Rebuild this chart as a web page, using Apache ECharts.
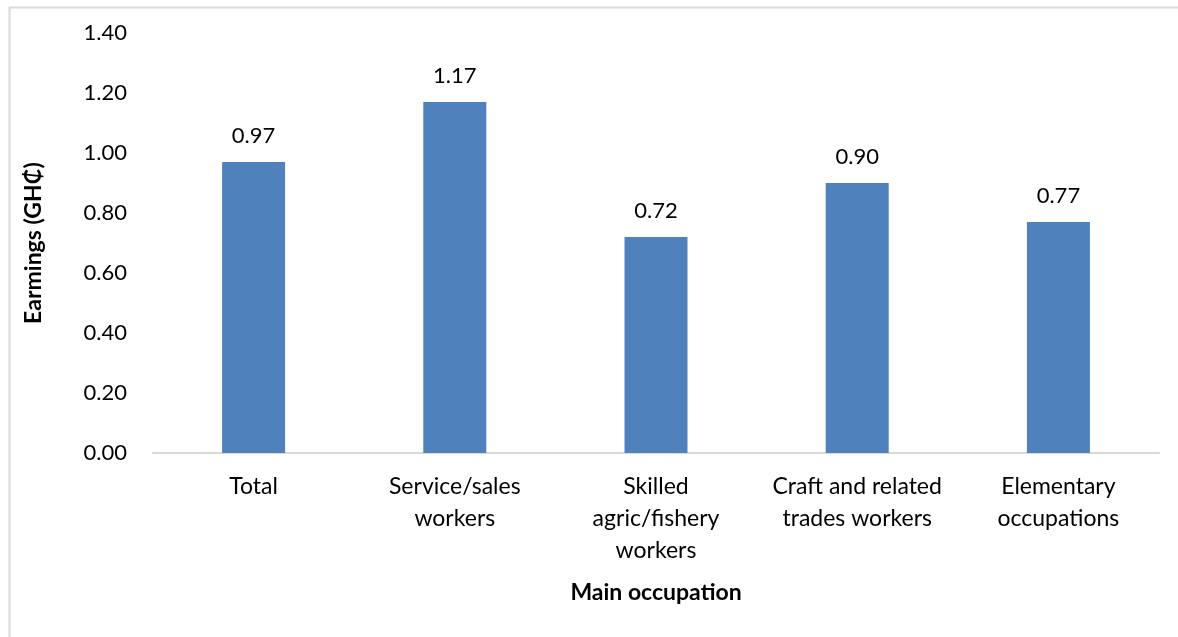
<!DOCTYPE html>
<html>
<head>
<meta charset="utf-8">
<script src="https://cdn.jsdelivr.net/npm/echarts@6/dist/echarts.min.js"></script>
<style>
html,body{margin:0;padding:0;background:#fff;}
#chart{width:1178px;height:637px;}
</style>
</head>
<body>
<div id="chart"></div>
<script>
const categories = ["Total", "Service/sales\nworkers", "Skilled\nagric/fishery\nworkers", "Craft and related\ntrades workers", "Elementary\noccupations"];
const earnings = [0.97, 1.17, 0.72, 0.90, 0.77];
const yTicks = { min: 0, max: 1.4, interval: 0.2 };
const yName = "Earmings (GH\u20B5)";
const xName = "Main occupation";

const font = "Lato, 'Noto Sans', 'DejaVu Sans', sans-serif";
const chart = echarts.init(document.getElementById('chart'), null, {renderer: 'canvas'});
chart.setOption({
  animation: false,
  backgroundColor: '#fff',
  graphic: [{
    type: 'rect', left: 7, top: 5, silent: true,
    shape: { width: 1300, height: 800 },
    style: { fill: 'none', stroke: '#d9d9d9', lineWidth: 2 }
  }],
  grid: { left: 153, right: 19, top: 33, bottom: 184 },
  xAxis: {
    type: 'category',
    data: categories,
    name: xName,
    nameLocation: 'middle',
    nameGap: 128,
    nameTextStyle: { fontFamily: font, fontSize: 23, fontWeight: 'bold', color: '#000' },
    axisLine: { show: true, lineStyle: { color: '#d9d9d9', width: 2 } },
    axisTick: { show: false },
    axisLabel: { fontFamily: font, fontSize: 23, color: '#000', margin: 18, lineHeight: 32, interval: 0 }
  },
  yAxis: {
    type: 'value',
    min: yTicks.min, max: yTicks.max, interval: yTicks.interval,
    name: yName,
    nameLocation: 'middle',
    nameGap: 108,
    nameRotate: 90,
    nameTextStyle: { fontFamily: font, fontSize: 23, fontWeight: 'bold', color: '#000' },
    axisLine: { show: false },
    axisTick: { show: false },
    splitLine: { show: false },
    axisLabel: { fontFamily: font, fontSize: 22, color: '#000', margin: 26, formatter: v => v.toFixed(2) }
  },
  series: [{
    type: 'bar',
    data: earnings,
    barWidth: 63,
    itemStyle: { color: '#4f81bd' },
    label: { show: true, position: 'top', distance: 15, fontFamily: font, fontSize: 22, color: '#000', formatter: p => p.value.toFixed(2) }
  }]
});
</script>
</body>
</html>
